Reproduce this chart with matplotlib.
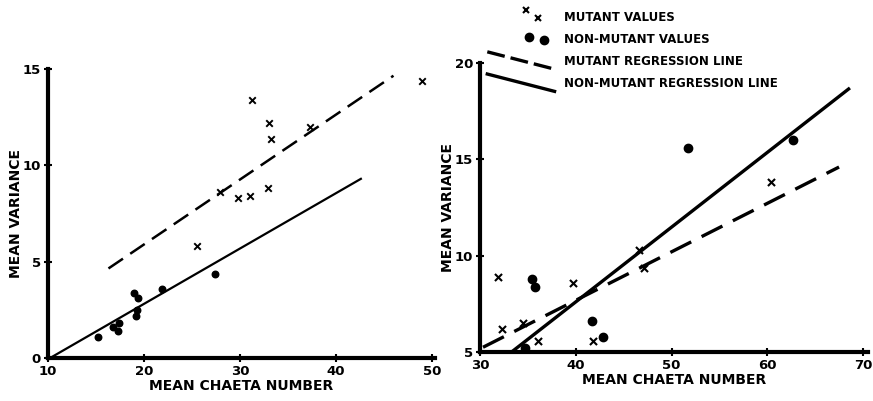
import matplotlib
matplotlib.use('Agg')
import matplotlib.pyplot as plt
from matplotlib.lines import Line2D
from matplotlib.legend_handler import HandlerBase

# left panel
left_mut_x = [31.3, 33.0, 33.2, 37.3, 49.0, 27.9, 29.8, 31.0, 32.9, 25.5]
left_mut_y = [13.4, 12.2, 11.35, 12.0, 14.4, 8.6, 8.3, 8.4, 8.85, 5.8]
left_non_x = [15.2, 16.8, 17.3, 17.4, 19.0, 19.4, 19.2, 19.3, 21.9, 27.4]
left_non_y = [1.1, 1.6, 1.4, 1.8, 3.4, 3.1, 2.2, 2.5, 3.6, 4.35]
left_mut_line_x = [16.3, 46.0]
left_mut_line_y = [4.65, 14.65]
left_non_line_x = [10.2, 42.6]
left_non_line_y = [0.0, 9.3]

# right panel
right_mut_x = [31.9, 32.3, 34.5, 36.0, 39.7, 41.8, 46.6, 47.1, 60.4]
right_mut_y = [8.9, 6.2, 6.5, 5.6, 8.6, 5.6, 10.3, 9.35, 13.8]
right_non_x = [34.7, 35.4, 35.7, 41.7, 42.8, 51.7, 62.7]
right_non_y = [5.2, 8.8, 8.4, 6.6, 5.8, 15.6, 16.0]
right_mut_line_x = [30.3, 67.5]
right_mut_line_y = [5.25, 14.6]
right_non_line_x = [33.4, 68.5]
right_non_line_y = [5.05, 18.65]

legend_labels = ['MUTANT VALUES', 'NON-MUTANT VALUES',
                 'MUTANT REGRESSION LINE', 'NON-MUTANT REGRESSION LINE']

plt.rcParams['font.family'] = ['DejaVu Sans']
DASH = (0, (7, 3.5))


class SlopedLine(HandlerBase):
    # legend line falling from left to right, like the printed key
    def create_artists(self, legend, orig, xdescent, ydescent, width, height, fontsize, trans):
        x0, x1 = -xdescent, -xdescent + width
        y0, y1 = -ydescent + height * 1.6, -ydescent - height * 0.5
        l = Line2D([x0, x1], [y0, y1])
        l.update_from(orig)
        l.set_transform(trans)
        return [l]


class TwoMarks(HandlerBase):
    # two staggered markers near the right end of the handle
    def __init__(self, xs, ys):
        super().__init__()
        self.xs, self.ys = xs, ys

    def create_artists(self, legend, orig, xdescent, ydescent, width, height, fontsize, trans):
        out = []
        for fx, fy in zip(self.xs, self.ys):
            m = Line2D([-xdescent + fx * width], [-ydescent + fy * height])
            m.update_from(orig)
            m.set_linestyle('none')
            m.set_transform(trans)
            out.append(m)
        return out


def style_axes(ax):
    for s in ['top', 'right']:
        ax.spines[s].set_visible(False)
    for s in ['left', 'bottom']:
        ax.spines[s].set_linewidth(3)
    ax.tick_params(direction='inout', length=6, width=1.5, pad=2, labelsize=9.5)
    for lab in ax.get_xticklabels() + ax.get_yticklabels():
        lab.set_fontweight('bold')


fig = plt.figure(figsize=(8.73, 4.01), dpi=100)

ax1 = fig.add_axes([0.055, 0.107, 0.443, 0.721])
ax1.scatter(left_mut_x, left_mut_y, marker='x', s=22, c='black', linewidths=1.4)
ax1.scatter(left_non_x, left_non_y, marker='o', s=22, c='black')
ax1.plot(left_mut_line_x, left_mut_line_y, color='black', lw=1.8, linestyle=DASH)
ax1.plot(left_non_line_x, left_non_line_y, color='black', lw=1.6)
ax1.set_xlim(10, 50.3)
ax1.set_ylim(0, 15)
ax1.set_xticks([10, 20, 30, 40, 50])
ax1.set_yticks([0, 5, 10, 15])
style_axes(ax1)
ax1.set_xlabel('MEAN CHAETA NUMBER', fontsize=10, fontweight='bold', labelpad=1)
ax1.set_ylabel('MEAN VARIANCE', fontsize=10, fontweight='bold', labelpad=0)

ax2 = fig.add_axes([0.55, 0.122, 0.444, 0.721])
ax2.scatter(right_mut_x, right_mut_y, marker='x', s=26, c='black', linewidths=1.5)
ax2.scatter(right_non_x, right_non_y, marker='o', s=36, c='black')
ax2.plot(right_mut_line_x, right_mut_line_y, color='black', lw=2.4, linestyle=DASH)
ax2.plot(right_non_line_x, right_non_line_y, color='black', lw=2.4)
ax2.set_xlim(30, 70.5)
ax2.set_ylim(5, 20)
ax2.set_xticks([30, 40, 50, 60, 70])
ax2.set_yticks([5, 10, 15, 20])
style_axes(ax2)
ax2.set_xlabel('MEAN CHAETA NUMBER', fontsize=10, fontweight='bold', labelpad=1)
ax2.set_ylabel('MEAN VARIANCE', fontsize=10, fontweight='bold', labelpad=0)

h_mut = Line2D([], [], marker='x', markersize=5, color='black', markeredgewidth=1.5)
h_non = Line2D([], [], marker='o', markersize=6, color='black')
h_mline = Line2D([], [], color='black', lw=2.4, linestyle=(0, (5.4, 1.8)))
h_nline = Line2D([], [], color='black', lw=2.4)
fig.legend([h_mut, h_non, h_mline, h_nline], legend_labels,
           loc='upper left', bbox_to_anchor=(0.546, 1.0), frameon=False,
           handlelength=5.7, handletextpad=0.8, labelspacing=0.78,
           prop={'size': 8.5, 'weight': 'bold'},
           handler_map={h_mut: TwoMarks((0.58, 0.75), (1.3, 0.3)),
                        h_non: TwoMarks((0.62, 0.84), (0.7, 0.3)),
                        h_mline: SlopedLine(), h_nline: SlopedLine()})

fig.savefig('out.png', dpi=100)
